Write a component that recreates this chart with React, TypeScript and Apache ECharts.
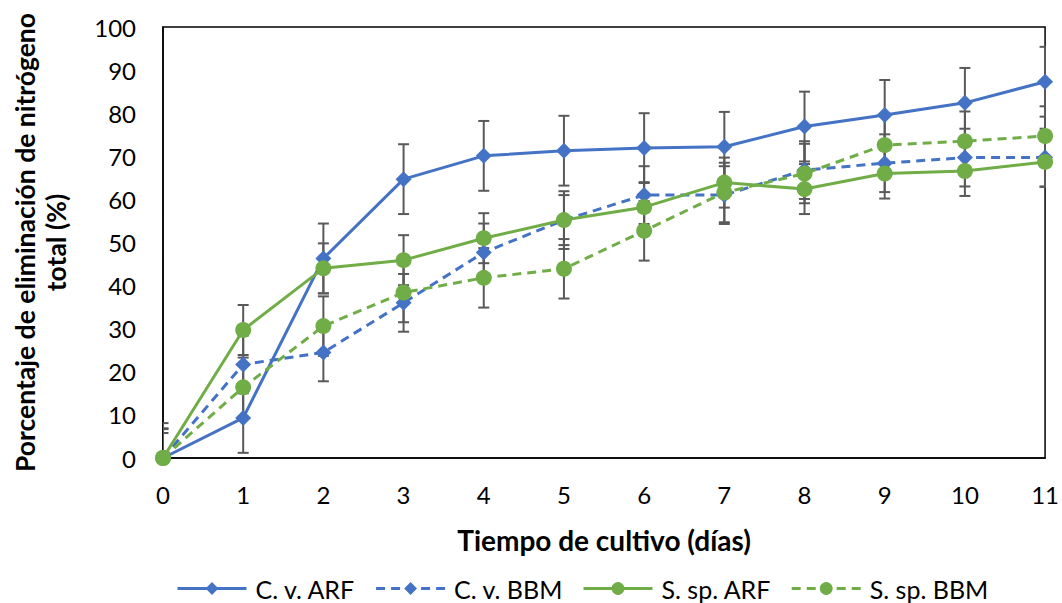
import React, { useEffect, useRef } from "react";
import * as echarts from "echarts";

const days = [0, 1, 2, 3, 4, 5, 6, 7, 8, 9, 10, 11];
const seriesNames = ["C. v. ARF", "C. v. BBM", "S. sp. ARF", "S. sp. BBM"];
const cvARF = [0, 9.3, 46.3, 64.7, 70.1, 71.3, 71.9, 72.2, 76.9, 79.6, 82.4, 87.3];
const cvBBM = [0, 21.7, 24.5, 36.0, 47.7, 55.2, 61.0, 61.0, 66.8, 68.4, 69.7, 69.7];
const ssARF = [0, 29.7, 44.0, 45.9, 51.0, 55.2, 58.2, 63.9, 62.4, 66.0, 66.6, 68.7];
const ssBBM = [0, 16.4, 30.6, 38.4, 41.8, 43.9, 52.7, 61.6, 66.0, 72.6, 73.5, 74.7];
const cvARFErr = [8.1, 8.1, 8.1, 8.1, 8.1, 8.1, 8.1, 8.1, 8.1, 8.1, 8.1, 8.1];
const cvBBMErr = [6.7, 6.7, 6.7, 6.7, 6.7, 6.7, 6.7, 6.7, 6.7, 6.7, 6.7, 6.7];
const ssARFErr = [5.8, 5.8, 5.8, 5.8, 5.8, 5.8, 5.8, 5.8, 5.8, 5.8, 5.8, 5.8];
const ssBBMErr = [6.9, 6.9, 6.9, 6.9, 6.9, 6.9, 6.9, 6.9, 6.9, 6.9, 6.9, 6.9];

const BLUE = "#4472C4";
const GREEN = "#70AD47";
const FONT = "Lato";

export default function App() {
  const ref = useRef<HTMLDivElement>(null);
  useEffect(() => {
    if (!ref.current) return;
    const chart = echarts.init(ref.current, undefined, { renderer: "svg" });
    const values = [cvARF, cvBBM, ssARF, ssBBM];
    const errs = [cvARFErr, cvBBMErr, ssARFErr, ssBBMErr];
    const colors = [BLUE, BLUE, GREEN, GREEN];
    const dashed = [false, true, false, true];
    const symbols = ["diamond", "diamond", "circle", "circle"];
    const symbolSizes = [16, 16, 16, 16];

    const errorSeries: any[] = values.map((vals, si) => ({
      type: "custom",
      name: seriesNames[si] + " err",
      clip: true,
      z: 1,
      silent: true,
      data: vals.map((v, i) => [days[i], v - errs[si][i], v + errs[si][i]]),
      renderItem: (params: any, api: any) => {
        const x = api.value(0);
        const lo = api.coord([x, api.value(1)]);
        const hi = api.coord([x, api.value(2)]);
        const w = 5.5;
        const style = { stroke: "#595959", lineWidth: 2 };
        return {
          type: "group",
          children: [
            { type: "line", shape: { x1: lo[0], y1: lo[1], x2: hi[0], y2: hi[1] }, style },
            { type: "line", shape: { x1: lo[0] - w, y1: lo[1], x2: lo[0] + w, y2: lo[1] }, style },
            { type: "line", shape: { x1: hi[0] - w, y1: hi[1], x2: hi[0] + w, y2: hi[1] }, style },
          ],
        };
      },
    }));

    const lineSeries: any[] = values.map((vals, si) => ({
      type: "line",
      name: seriesNames[si],
      z: 3,
      data: vals.map((v, i) => [days[i], v]),
      symbol: symbols[si],
      symbolSize: symbolSizes[si],
      showAllSymbol: true,
      itemStyle: { color: colors[si] },
      lineStyle: { color: colors[si], width: 3, type: dashed[si] ? [9, 6] : "solid" },
    }));

    chart.setOption({
      animation: false,
      textStyle: { fontFamily: FONT },
      grid: {
        left: 163,
        right: 16,
        top: 27,
        bottom: 145,
        show: true,
        borderColor: "#000",
        borderWidth: 1.5,
      },
      legend: {
        data: seriesNames,
        bottom: 2,
        left: 176,
        padding: 0,
        itemWidth: 69,
        itemHeight: 16,
        itemGap: 19,
        lineStyle: { width: 3 },
        textStyle: { fontFamily: FONT, fontSize: 25, color: "#000", padding: [0, 0, 0, 4] },
      },
      xAxis: {
        type: "value",
        min: 0,
        max: 11,
        interval: 1,
        name: "Tiempo de cultivo (días)",
        nameLocation: "middle",
        nameGap: 68,
        nameTextStyle: { fontFamily: FONT, fontSize: 28, fontWeight: "bold", color: "#000" },
        axisLine: { show: true, lineStyle: { color: "#000", width: 1.5 } },
        axisTick: { show: false },
        splitLine: { show: false },
        axisLabel: { fontFamily: FONT, fontSize: 24, color: "#000", margin: 24 },
      },
      yAxis: {
        type: "value",
        min: 0,
        max: 100,
        interval: 10,
        name: "Porcentaje de eliminación de nitrógeno\ntotal (%)",
        nameLocation: "middle",
        nameRotate: 90,
        nameGap: 92,
        nameTextStyle: {
          fontFamily: FONT,
          fontSize: 26.5,
          fontWeight: "bold",
          color: "#000",
          lineHeight: 31,
        },
        axisLine: { show: true, lineStyle: { color: "#000", width: 1.5 } },
        axisTick: { show: false },
        splitLine: { show: false },
        axisLabel: { fontFamily: FONT, fontSize: 24, color: "#000", margin: 27 },
      },
      series: [...errorSeries, ...lineSeries],
    });
    return () => chart.dispose();
  }, []);
  return <div ref={ref} style={{ width: 1062, height: 603, position: "absolute", left: 0, top: 0 }} />;
}
